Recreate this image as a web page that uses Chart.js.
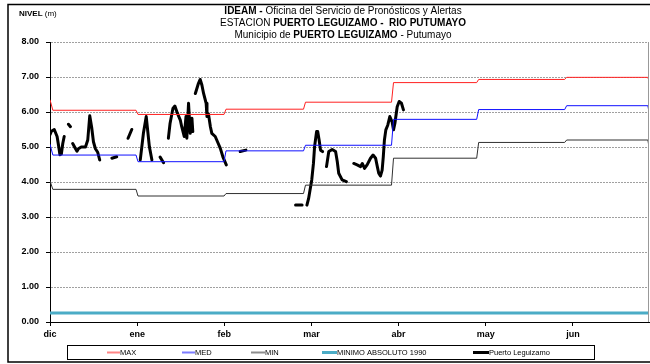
<!DOCTYPE html>
<html>
<head>
<meta charset="utf-8">
<script src="https://cdn.jsdelivr.net/npm/chart.js@4"></script>
<style>
  body { margin: 0; background: #fff; }
  #wrap { position: relative; width: 650px; height: 364px; }
</style>
</head>
<body>
<div id="wrap"><canvas id="nivelChart" width="650" height="364"></canvas></div>
<script>
// x is the day counted from 1 December
const monthLabels = ['dic', 'ene', 'feb', 'mar', 'abr', 'may', 'jun'];
const monthStarts = [0, 31, 62, 90, 121, 151, 182];
const lastDay = 211;

// monthly reference levels (m)
const maxLevels = [6.05, 5.93, 6.08, 6.28, 6.84, 6.93, 6.99];
const medLevels = [4.77, 4.58, 4.89, 5.05, 5.79, 6.07, 6.18];
const minLevels = [3.79, 3.60, 3.67, 3.91, 4.68, 5.13, 5.20];
// value at the first and last day
const maxEnds = [6.35, 6.88];
const medEnds = [5.08, 6.00];
const minEnds = [4.03, 5.00];
const minimoAbsoluto = 0.26;

// observed levels, Puerto Leguizamo (null = no reading)
const obsDays = [
  0, 0.5, 1.5, 2.5, 3, 3.5, 4, 4.5, 5, 5.5,
  6.5, 7.2, 7.5,
  8, 9, 9.5, 10, 11, 12.5, 13.3, 14, 14.7, 15.3, 16, 16.8, 17.5, 18,
  21.8, 23.5, 24,
  27.5, 28.8, 29,
  31.8, 32.9, 33.9, 35, 35.9, 36,
  38.8, 40, 40.5,
  41.7, 42.3, 43.3, 44, 44.9, 45.9, 46.4, 47.3, 47.9, 48.2, 48.8, 49.4, 50, 50.3, 50.8,
  51.2, 52.3, 52.9, 53.5, 54.1, 55, 55.3, 55.8, 56.5, 57, 58.2, 59, 60, 60.9, 62.1, 62.5,
  67, 69, 70,
  86.5, 88.8, 89.5,
  90.5, 91.1, 91.6, 92.2, 92.8, 93.2, 93.9, 94.3, 94.8, 95.3, 96, 96.5,
  97.4, 98.2, 99.4, 100.6, 101.2, 101.7, 102.9, 104.4, 105,
  107, 108.2, 109.4, 110, 110.8, 111.7, 112.9, 113.8, 114.7, 115.3, 115.8, 116.4, 117, 117.4, 117.8,
  118.3, 119, 119.7, 120.5, 121, 121.5, 122.3, 123, 123.8, 124.5
];
const obsLevels = [
  5.35, 5.45, 5.50, 5.30, 5.05, 4.78, 4.80, 5.10, 5.30, null,
  5.65, 5.58, null,
  5.10, 4.95, 4.88, 4.95, 5.00, 5.00, 5.20, 5.89, 5.55, 5.15, 4.95, 4.85, 4.63, null,
  4.68, 4.72, null,
  5.25, 5.50, null,
  4.63, 5.39, 5.87, 5.01, 4.63, null,
  4.71, 4.55, null,
  5.25, 5.68, 6.10, 6.17, 5.96, 5.77, 5.58, 5.30, 5.87, 5.25, 6.25, 5.39, 5.82, 5.44, null,
  6.53, 6.82, 6.93, 6.77, 6.53, 6.25, 5.87, 5.95, 5.58, 5.39, 5.30, 5.15, 4.96, 4.72, 4.49, null,
  4.87, 4.91, null,
  3.34, 3.34, null,
  3.34, 3.53, 3.77, 4.06, 4.53, 5.01, 5.44, 5.44, 5.20, 4.91, 4.87, null,
  4.44, 4.87, 4.93, 4.87, 4.58, 4.25, 4.06, 4.01, null,
  4.53, 4.49, 4.44, 4.53, 4.39, 4.49, 4.68, 4.77, 4.68, 4.44, 4.25, 4.17, 4.34, 4.72, 5.20,
  5.49, 5.63, 5.87, 5.72, 5.49, 5.68, 6.15, 6.30, 6.25, 6.06
];

// build a stepped series from monthly levels
function stepSeries(levels, ends) {
  const pts = [{ x: 0, y: ends[0] }, { x: 1, y: levels[0] }];
  for (let i = 1; i < levels.length; i++) {
    pts.push({ x: monthStarts[i] - 0.7, y: levels[i - 1] });
    pts.push({ x: monthStarts[i], y: levels[i] });
  }
  pts.push({ x: lastDay - 0.4, y: levels[levels.length - 1] });
  pts.push({ x: lastDay, y: ends[1] });
  return pts;
}

const datasets = [
  { label: 'MAX', data: stepSeries(maxLevels, maxEnds), borderColor: '#ff2020', borderWidth: 1 },
  { label: 'MED', data: stepSeries(medLevels, medEnds), borderColor: '#1010ff', borderWidth: 1 },
  { label: 'MIN', data: stepSeries(minLevels, minEnds), borderColor: '#303030', borderWidth: 1 },
  { label: 'MINIMO ABSOLUTO 1990', data: [{ x: 0, y: minimoAbsoluto }, { x: lastDay, y: minimoAbsoluto }],
    borderColor: '#4bacc6', borderWidth: 3 },
  { label: 'Puerto Leguizamo', data: obsDays.map((d, i) => ({ x: d, y: obsLevels[i] })),
    borderColor: '#000000', borderWidth: 3, borderCapStyle: 'round', borderJoinStyle: 'round' }
];
datasets.forEach(ds => { ds.pointRadius = 0; ds.fill = false; ds.tension = 0; ds.spanGaps = false; });

const FONT = '"Liberation Sans", Arial, sans-serif';

function drawRich(ctx, parts, cx, y, size) {
  let total = 0;
  parts.forEach(p => {
    ctx.font = (p[1] ? 'bold ' : '') + size + 'px ' + FONT;
    total += ctx.measureText(p[0]).width;
  });
  let x = cx - total / 2;
  parts.forEach(p => {
    ctx.font = (p[1] ? 'bold ' : '') + size + 'px ' + FONT;
    ctx.fillText(p[0], x, y);
    x += ctx.measureText(p[0]).width;
  });
}

const decorPlugin = {
  id: 'decor',
  afterDraw(chart) {
    const ctx = chart.ctx;
    const area = chart.chartArea;
    ctx.save();
    // outer frame
    ctx.strokeStyle = '#000';
    ctx.lineWidth = 1.5;
    ctx.strokeRect(8, 4.5, 700, 357.5);
    // right edge of plot
    ctx.strokeStyle = '#999';
    ctx.lineWidth = 1;
    ctx.beginPath();
    ctx.moveTo(area.right - 0.5, area.top);
    ctx.lineTo(area.right - 0.5, area.bottom);
    ctx.stroke();

    // titles
    ctx.fillStyle = '#000';
    ctx.textBaseline = 'middle';
    ctx.textAlign = 'left';
    drawRich(ctx, [['IDEAM - ', true], ['Oficina del Servicio de Pronósticos y Alertas', false]], 343, 11, 10);
    drawRich(ctx, [['ESTACION ', false], ['PUERTO LEGUIZAMO -  RIO PUTUMAYO', true]], 343, 23, 10);
    drawRich(ctx, [['Municipio de ', false], ['PUERTO LEGUIZAMO', true], [' - Putumayo', false]], 343, 35, 10);
    ctx.font = 'bold 8px ' + FONT;
    ctx.fillText('NIVEL', 19, 14);
    const w = ctx.measureText('NIVEL ').width;
    ctx.font = '8px ' + FONT;
    ctx.fillText('(m)', 19 + w, 14);

    // legend
    ctx.strokeStyle = '#000';
    ctx.lineWidth = 1;
    ctx.strokeRect(67.5, 345.5, 527, 14);
    const legendX = [107, 182, 251, 322, 473];
    const legendLen = [13, 13, 14, 15, 16];
    ctx.font = '7.5px ' + FONT;
    chart.data.datasets.forEach((ds, i) => {
      const x = legendX[i];
      ctx.strokeStyle = ds.borderColor;
      ctx.globalAlpha = i < 3 ? 0.55 : 1;
      ctx.lineWidth = i >= 3 ? 3 : 2;
      ctx.beginPath();
      ctx.moveTo(x, 352.5);
      ctx.lineTo(x + legendLen[i], 352.5);
      ctx.stroke();
      ctx.globalAlpha = 1;
      ctx.fillText(ds.label, x + legendLen[i], 353);
    });
    ctx.restore();
  }
};

new Chart(document.getElementById('nivelChart'), {
  type: 'line',
  data: { datasets },
  plugins: [decorPlugin],
  options: {
    responsive: false,
    animation: false,
    layout: { padding: { top: 42, right: 1, left: 0, bottom: 0 } },
    plugins: { legend: { display: false }, title: { display: false }, tooltip: { enabled: false } },
    scales: {
      x: {
        type: 'linear',
        min: 0,
        max: lastDay,
        afterBuildTicks: axis => {
          axis.ticks = monthLabels.map((m, i) => ({ value: i * 30.7 }));
        },
        afterFit: axis => { axis.height = 42; },
        grid: { drawOnChartArea: false, tickLength: 4, color: '#000' },
        border: { color: '#000', width: 1 },
        ticks: {
          autoSkip: false,
          maxRotation: 0,
          padding: 3,
          color: '#000',
          font: { family: FONT, size: 9, weight: 'bold' },
          callback: (value, index) => monthLabels[index]
        }
      },
      y: {
        min: 0,
        max: 8,
        afterFit: axis => { axis.width = 50; },
        grid: { color: '#a0a0a0', tickLength: 4, tickColor: '#000', tickBorderDash: [] },
        border: { color: '#000', width: 1, dash: [2, 1] },
        ticks: {
          stepSize: 1,
          padding: 7,
          color: '#000',
          font: { family: FONT, size: 9, weight: 'bold' },
          callback: v => v.toFixed(2)
        }
      }
    }
  }
});
</script>
</body>
</html>
